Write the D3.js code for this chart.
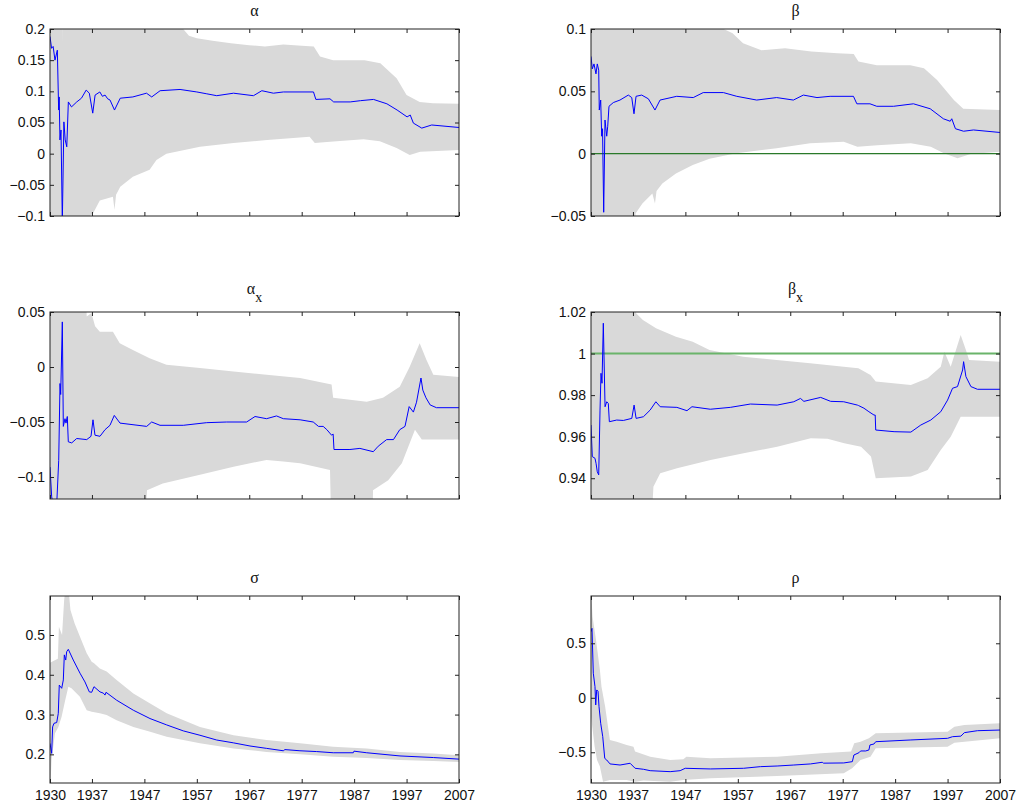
<!DOCTYPE html>
<html>
<head>
<meta charset="utf-8">
<script src="https://cdn.jsdelivr.net/npm/d3@7.9.0/dist/d3.min.js"></script>
<style>
  body { margin: 0; background: #fff; }
  svg { display: block; }
  .tick-label { font-family: "Liberation Sans", Arial, Helvetica, sans-serif; font-size: 14px; fill: #111; }
  .title { font-family: "Liberation Serif", "Times New Roman", serif; font-size: 16px; fill: #111; }
</style>
</head>
<body>
<svg id="chart" width="1018" height="809"></svg>
<script>
// x axis (years)
const xDomain = [1929, 2007];
const xTickYears = [1929, 1937, 1947, 1957, 1967, 1977, 1987, 1997, 2007];
const xTickLabels = ['1930', '1937', '1947', '1957', '1967', '1977', '1987', '1997', '2007'];

// alpha
const alphaMid = [[1929.0,0.188],[1929.3,0.169],[1929.6,0.172],[1929.95,0.150],[1930.4,0.166],[1930.65,0.070],[1930.75,0.091],[1930.9,0.022],[1931.1,0.038],[1931.35,-0.11],[1931.65,0.051],[1931.9,0.022],[1932.2,0.011],[1932.5,0.083],[1933.1,0.075],[1934.1,0.083],[1935.0,0.089],[1935.9,0.102],[1936.5,0.097],[1937.15,0.065],[1937.6,0.094],[1938.5,0.099],[1939.0,0.092],[1939.5,0.094],[1940.0,0.088],[1940.45,0.086],[1941.3,0.070],[1942.4,0.089],[1944.8,0.091],[1947.4,0.097],[1948.4,0.091],[1950.0,0.101],[1953.8,0.103],[1957.0,0.099],[1958.9,0.096],[1960.8,0.093],[1964.0,0.097],[1967.8,0.093],[1969.4,0.101],[1971.6,0.097],[1973.5,0.099],[1979.25,0.099],[1979.7,0.087],[1982.4,0.088],[1983.1,0.083],[1986.25,0.083],[1988.2,0.085],[1990.7,0.087],[1993.25,0.080],[1995.2,0.070],[1997.1,0.059],[1997.7,0.062],[1998.3,0.049],[1999.9,0.041],[2001.8,0.046],[2007.0,0.042]];
const alphaHi = [[1929,0.25],[1931.3,0.25],[1931.33,0.175],[1931.37,0.25],[1954.0,0.25],[1954.4,0.2],[1955.5,0.189],[1957,0.185],[1960,0.181],[1963.5,0.177],[1967,0.174],[1970,0.172],[1973.5,0.175],[1977,0.173],[1979.3,0.172],[1980.5,0.156],[1983,0.150],[1989,0.150],[1992,0.145],[1995.1,0.121],[1997,0.094],[1999.5,0.083],[2002,0.081],[2007,0.080]];
const alphaLo = [[1929,-0.2],[1936.5,-0.2],[1936.6,-0.1],[1937.2,-0.096],[1938.5,-0.075],[1941,-0.069],[1941.3,-0.09],[1941.6,-0.066],[1942.4,-0.053],[1944.8,-0.037],[1948,-0.026],[1949.3,-0.010],[1951.2,0.0],[1957.6,0.011],[1964,0.017],[1970.4,0.022],[1978.5,0.027],[1979.5,0.017],[1982.4,0.019],[1988.8,0.023],[1991.9,0.020],[1995.1,0.009],[1997.6,-0.002],[1999.6,0.003],[2007,0.006]];
const alphaTicks = [-0.1, -0.05, 0, 0.05, 0.1, 0.15, 0.2];

// beta
const betaMid = [[1929.0,0.078],[1929.25,0.068],[1929.57,0.072],[1929.95,0.064],[1930.2,0.072],[1930.47,0.067],[1930.58,0.035],[1930.85,0.043],[1931.04,0.014],[1931.2,0.02],[1931.42,-0.047],[1931.67,0.027],[1932.0,0.014],[1932.19,0.022],[1932.43,0.038],[1933.26,0.041],[1934.53,0.043],[1936.12,0.047],[1936.77,0.045],[1937.2,0.032],[1937.59,0.046],[1938.67,0.047],[1939.94,0.044],[1941.2,0.035],[1942.17,0.043],[1945.35,0.046],[1948.5,0.045],[1950.4,0.049],[1954.25,0.049],[1956.8,0.046],[1960.6,0.043],[1964.4,0.045],[1967.6,0.043],[1969.5,0.047],[1972.1,0.045],[1974.6,0.046],[1979.05,0.046],[1979.7,0.040],[1982.2,0.040],[1983.5,0.038],[1986.7,0.038],[1990.5,0.040],[1993.7,0.036],[1996.2,0.028],[1997.5,0.026],[1997.8,0.028],[1998.5,0.020],[2000.05,0.018],[2001.95,0.019],[2007,0.017]];
const betaHi = [[1929,0.15],[1931.38,0.15],[1931.42,0.095],[1931.46,0.15],[1954,0.15],[1954.3,0.1],[1956,0.0965],[1958,0.0885],[1961.5,0.083],[1966,0.0845],[1971,0.082],[1976,0.0805],[1979.1,0.080],[1980,0.074],[1983.5,0.071],[1989.9,0.071],[1992.5,0.0685],[1995,0.059],[1998.2,0.043],[2000,0.036],[2007,0.035]];
const betaLo = [[1929,-0.1],[1937.3,-0.1],[1937.5,-0.048],[1938.8,-0.040],[1940.7,-0.032],[1941.2,-0.040],[1941.5,-0.030],[1942.6,-0.024],[1945.2,-0.016],[1948.4,-0.009],[1951.6,-0.004],[1956.7,0.0003],[1964.4,0.0043],[1970.8,0.0083],[1977.2,0.0096],[1979.8,0.0056],[1983.6,0.0067],[1990,0.0083],[1993.8,0.0056],[1996.3,0.0003],[1998.9,-0.0037],[2001.4,-0.0003],[2007,0.0016]];
const betaTicks = [-0.05, 0, 0.05, 0.1];

// alpha_x
const alphaXMid = [[1929.0,-0.091],[1929.32,-0.118],[1929.57,-0.125],[1930.28,-0.125],[1930.66,-0.085],[1930.91,-0.015],[1931.04,-0.025],[1931.35,0.041],[1931.54,-0.054],[1931.86,-0.047],[1932.05,-0.051],[1932.3,-0.045],[1932.49,-0.068],[1933.14,-0.069],[1934.09,-0.065],[1936.0,-0.066],[1936.82,-0.063],[1937.2,-0.048],[1937.58,-0.062],[1938.53,-0.063],[1939.49,-0.057],[1940.44,-0.053],[1941.26,-0.044],[1942.35,-0.051],[1947.44,-0.054],[1948.39,-0.050],[1949.98,-0.053],[1954.42,-0.053],[1958.88,-0.0506],[1962.7,-0.050],[1966.5,-0.050],[1968.1,-0.045],[1970.3,-0.047],[1972.2,-0.0445],[1973.5,-0.047],[1976.7,-0.048],[1979.2,-0.050],[1980.2,-0.054],[1981.1,-0.054],[1981.8,-0.057],[1982.7,-0.062],[1983.0,-0.061],[1983.16,-0.075],[1986.2,-0.075],[1988.1,-0.074],[1990.65,-0.077],[1991.6,-0.072],[1993.2,-0.066],[1994.5,-0.066],[1995.7,-0.057],[1996.7,-0.054],[1997.5,-0.036],[1998.3,-0.041],[1998.9,-0.032],[1999.75,-0.010],[2000.1,-0.021],[2000.7,-0.028],[2001.5,-0.0345],[2002.7,-0.037],[2007,-0.037]];
const alphaXHi = [[1929,0.1],[1935.6,0.1],[1936.0,0.046],[1936.9,0.049],[1937.6,0.037],[1938.5,0.032],[1941,0.032],[1942.3,0.0215],[1944.8,0.0155],[1948,0.008],[1951.2,0.002],[1957.6,-0.001],[1964,-0.004],[1970.3,-0.007],[1976.7,-0.010],[1982.7,-0.016],[1983.0,-0.028],[1989.4,-0.0315],[1992.5,-0.028],[1995.7,-0.018],[1997.6,0.0003],[1999.5,0.0215],[2000.8,0.0064],[2002.1,-0.007],[2007,-0.009]];
const alphaXLo = [[1929,-0.2],[1946.5,-0.2],[1947.5,-0.112],[1950.5,-0.106],[1957.6,-0.098],[1964,-0.0906],[1970.3,-0.0845],[1973.5,-0.086],[1976.7,-0.0876],[1982.4,-0.0936],[1982.9,-0.2],[1990.4,-0.2],[1990.6,-0.112],[1993.5,-0.103],[1996.1,-0.0876],[1998.6,-0.057],[1999.9,-0.066],[2007,-0.066]];
const alphaXTicks = [-0.1, -0.05, 0, 0.05];

// beta_x
const betaXMid = [[1929.0,0.9656],[1929.25,0.9504],[1929.76,0.9496],[1929.96,0.9472],[1930.2,0.9431],[1930.47,0.9416],[1930.72,0.9728],[1930.91,0.9905],[1931.1,0.9857],[1931.35,1.0146],[1931.68,0.9744],[1932.0,0.9768],[1932.3,0.976],[1932.5,0.9672],[1933.9,0.968],[1935.17,0.9678],[1936.78,0.9688],[1937.22,0.9752],[1937.6,0.9688],[1939.0,0.9696],[1940.28,0.9728],[1941.37,0.9768],[1942.2,0.9744],[1945.38,0.9741],[1947.3,0.9725],[1948.25,0.9744],[1951.75,0.9732],[1955.57,0.9741],[1959.4,0.9757],[1964.5,0.9752],[1967.67,0.9768],[1968.95,0.9784],[1969.6,0.977],[1972.8,0.9789],[1974.7,0.977],[1977.2,0.9768],[1979.8,0.9752],[1980.0,0.975],[1981.05,0.9737],[1982.0,0.972],[1982.97,0.9704],[1983.2,0.9704],[1983.3,0.9632],[1986.8,0.9624],[1990.0,0.9622],[1991.9,0.9656],[1993.8,0.968],[1995.7,0.972],[1997.0,0.9776],[1997.95,0.9833],[1998.9,0.9841],[1999.87,0.9921],[2000.06,0.9961],[2000.5,0.9889],[2001.45,0.9841],[2002.7,0.9828],[2007,0.9828]];
const betaXHi = [[1929,1.05],[1937.0,1.05],[1937.6,1.0194],[1938.9,1.0161],[1941.4,1.0122],[1945.2,1.0081],[1948.4,1.0057],[1951.6,1.0017],[1958,0.9985],[1964.4,0.9969],[1970.8,0.9953],[1977.2,0.9937],[1980,0.9929],[1982.3,0.9897],[1983.3,0.9865],[1990,0.9849],[1993.2,0.9881],[1995.7,0.9937],[1996.4,1.0009],[1997.6,0.9937],[1999.5,1.0089],[2000.5,1.0017],[2001.1,0.9969],[2007,0.9961]];
const betaXLo = [[1929,0.9],[1940.2,0.9],[1940.9,0.9359],[1942.2,0.9424],[1945.4,0.9448],[1951.8,0.9488],[1958.1,0.952],[1964.5,0.9552],[1970.9,0.9592],[1974.1,0.959],[1977.3,0.9568],[1980.5,0.9552],[1982.4,0.9504],[1983.3,0.94],[1990,0.9408],[1993.2,0.944],[1995.7,0.9536],[1997.6,0.96],[1999.5,0.9696],[2000.8,0.9696],[2007,0.9696]];
const betaXTicks = [0.94, 0.96, 0.98, 1, 1.02];

// sigma
const sigmaMid = [[1929.0,0.2276],[1929.32,0.2025],[1929.5,0.269],[1929.76,0.278],[1930.28,0.28],[1930.58,0.303],[1930.77,0.374],[1931.23,0.366],[1931.54,0.387],[1931.73,0.450],[1932.0,0.437],[1932.18,0.458],[1932.49,0.464],[1933.44,0.437],[1934.72,0.404],[1935.67,0.382],[1936.5,0.357],[1936.95,0.356],[1937.39,0.370],[1938.53,0.357],[1939.16,0.354],[1939.49,0.349],[1939.68,0.356],[1941.72,0.336],[1944.88,0.311],[1948.07,0.290],[1951.25,0.274],[1954.42,0.259],[1957.6,0.248],[1960.79,0.236],[1963.95,0.229],[1967.14,0.221],[1970.32,0.215],[1973.49,0.209],[1973.8,0.212],[1976.67,0.209],[1979.86,0.207],[1983.02,0.204],[1986.84,0.204],[1986.97,0.208],[1989.4,0.204],[1995.75,0.196],[2002.1,0.192],[2007,0.188]];
const sigmaHi = [[1929,0.43],[1930.5,0.44],[1930.7,0.521],[1931.3,0.50],[1931.7,0.588],[1932,0.62],[1932.5,0.62],[1932.9,0.563],[1933.7,0.529],[1934.7,0.496],[1936,0.454],[1936.95,0.433],[1937.4,0.429],[1938.5,0.416],[1939.8,0.408],[1941.7,0.387],[1944.9,0.353],[1948.1,0.328],[1951.25,0.303],[1957.6,0.269],[1964,0.248],[1970.3,0.236],[1976.7,0.228],[1983,0.219],[1989.4,0.215],[1995.75,0.206],[2002.1,0.202],[2007,0.198]];
const sigmaLo = [[1929,0.1],[1929.3,0.186],[1929.95,0.253],[1930.6,0.269],[1931.2,0.294],[1931.9,0.336],[1932.5,0.370],[1933.1,0.366],[1934.7,0.345],[1936,0.311],[1936.95,0.307],[1938.5,0.303],[1939.8,0.299],[1941.7,0.286],[1944.9,0.269],[1948.1,0.257],[1951.25,0.244],[1957.6,0.228],[1964,0.215],[1970.3,0.206],[1976.7,0.200],[1983,0.194],[1989.4,0.191],[1995.75,0.186],[2002.1,0.183],[2007,0.181]];
const sigmaTicks = [0.2, 0.3, 0.4, 0.5];

// rho
const rhoMid = [[1929.0,0.606],[1929.19,0.637],[1929.44,0.225],[1929.76,0.102],[1929.9,-0.066],[1930.09,0.072],[1930.34,0.06],[1930.53,-0.082],[1930.85,-0.234],[1931.24,-0.357],[1931.62,-0.556],[1932.0,-0.571],[1932.63,-0.607],[1934.54,-0.617],[1936.46,-0.601],[1937.41,-0.647],[1939.0,-0.656],[1940.28,-0.669],[1944.1,-0.678],[1946.0,-0.669],[1946.97,-0.647],[1951.75,-0.653],[1958.1,-0.647],[1961.3,-0.632],[1964.5,-0.626],[1967.67,-0.617],[1970.87,-0.607],[1973.1,-0.592],[1973.35,-0.600],[1977.2,-0.598],[1978.84,-0.586],[1979.14,-0.525],[1980.1,-0.504],[1980.42,-0.488],[1981.38,-0.488],[1982.0,-0.479],[1982.2,-0.433],[1982.97,-0.424],[1983.3,-0.403],[1990.0,-0.387],[1997.0,-0.372],[1997.95,-0.357],[1999.54,-0.352],[2000.2,-0.320],[2002.7,-0.302],[2007,-0.296]];
const rhoHi = [[1929,1.0],[1929.3,0.744],[1929.95,0.530],[1930.7,0.255],[1931.0,0.102],[1931.7,-0.082],[1932.6,-0.387],[1933.9,-0.403],[1935.8,-0.433],[1937.1,-0.449],[1937.4,-0.494],[1940.3,-0.540],[1944.1,-0.571],[1946.6,-0.565],[1947.2,-0.540],[1951.8,-0.555],[1964.5,-0.540],[1972.9,-0.509],[1978.6,-0.494],[1979.2,-0.417],[1980.4,-0.403],[1982,-0.372],[1983.3,-0.326],[1997,-0.311],[1998.3,-0.265],[2000.2,-0.250],[2007,-0.234]];
const rhoLo = [[1929,-0.17],[1929.7,-0.449],[1930.15,-0.571],[1930.7,-0.63],[1931.3,-0.77],[1932.6,-0.754],[1935.8,-0.754],[1937.4,-0.77],[1939,-0.76],[1944.1,-0.77],[1946.6,-0.754],[1951.8,-0.739],[1964.5,-0.718],[1977.2,-0.693],[1978.8,-0.647],[1980.4,-0.571],[1982.3,-0.540],[1983.3,-0.464],[1997,-0.449],[1998.3,-0.412],[2007,-0.372]];
const rhoTicks = [-0.5, 0, 0.5];

const panels = [
  { title: 'α', sub: '', col: 0, row: 0, yDomain: [-0.1, 0.2], ticks: alphaTicks, mid: alphaMid, hi: alphaHi, lo: alphaLo },
  { title: 'β', sub: '', col: 1, row: 0, yDomain: [-0.05, 0.1], ticks: betaTicks, mid: betaMid, hi: betaHi, lo: betaLo, ref: 0, refColor: '#2a7a2a', refWidth: 1.2 },
  { title: 'α', sub: 'x', col: 0, row: 1, yDomain: [-0.12, 0.05], ticks: alphaXTicks, mid: alphaXMid, hi: alphaXHi, lo: alphaXLo },
  { title: 'β', sub: 'x', col: 1, row: 1, yDomain: [0.93, 1.02], ticks: betaXTicks, mid: betaXMid, hi: betaXHi, lo: betaXLo, ref: 1, refColor: '#6ab46a', refWidth: 2 },
  { title: 'σ', sub: '', col: 0, row: 2, yDomain: [0.128, 0.598], ticks: sigmaTicks, mid: sigmaMid, hi: sigmaHi, lo: sigmaLo },
  { title: 'ρ', sub: '', col: 1, row: 2, yDomain: [-0.782, 0.934], ticks: rhoTicks, mid: rhoMid, hi: rhoHi, lo: rhoLo },
];

const colLeft = [50, 591];
const rowTop = [29, 312, 596];
const panelW = 409;
const panelH = 187;
const tickLen = 4;

const svg = d3.select('#chart');
svg.append('rect').attr('width', 1018).attr('height', 809).attr('fill', '#fff');

const fmt = (v) => {
  let s = String(+v.toFixed(3));
  if (s.startsWith('-')) s = '\u2212' + s.slice(1);
  return s;
};

panels.forEach((p, i) => {
  const left = colLeft[p.col];
  const top = rowTop[p.row];
  const x = d3.scaleLinear().domain(xDomain).range([left, left + panelW]);
  const y = d3.scaleLinear().domain(p.yDomain).range([top + panelH, top]);

  const g = svg.append('g');
  const clipId = 'clip' + i;
  svg.append('clipPath').attr('id', clipId)
    .append('rect').attr('x', left).attr('y', top).attr('width', panelW).attr('height', panelH);

  const plot = g.append('g').attr('clip-path', `url(#${clipId})`);
  const line = d3.line().x(d => x(d[0])).y(d => y(d[1]));

  // confidence band: upper edge forward, lower edge back
  const band = p.hi.concat(p.lo.slice().reverse());
  plot.append('path')
    .attr('d', line(band) + 'Z')
    .attr('fill', '#d9d9d9')
    .attr('stroke', 'none');

  if (p.ref !== undefined) {
    plot.append('path')
      .attr('d', line([[xDomain[0], p.ref], [xDomain[1], p.ref]]))
      .attr('stroke', p.refColor)
      .attr('stroke-width', p.refWidth)
      .attr('fill', 'none');
  }

  plot.append('path')
    .attr('d', line(p.mid))
    .attr('fill', 'none')
    .attr('stroke', '#0000ff')
    .attr('stroke-width', 1);

  // axes with inward ticks on all four sides
  const axisColor = '#222';
  const bottom = g.append('g').attr('transform', `translate(0,${top + panelH})`)
    .call(d3.axisBottom(x).tickValues(xTickYears).tickSizeInner(-tickLen).tickSizeOuter(0)
      .tickFormat((d, k) => p.row === 2 ? xTickLabels[k] : ''));
  const topAx = g.append('g').attr('transform', `translate(0,${top})`)
    .call(d3.axisTop(x).tickValues(xTickYears).tickSizeInner(-tickLen).tickSizeOuter(0).tickFormat(''));
  const leftAx = g.append('g').attr('transform', `translate(${left},0)`)
    .call(d3.axisLeft(y).tickValues(p.ticks).tickSizeInner(-tickLen).tickSizeOuter(0).tickPadding(5).tickFormat(fmt));
  const rightAx = g.append('g').attr('transform', `translate(${left + panelW},0)`)
    .call(d3.axisRight(y).tickValues(p.ticks).tickSizeInner(-tickLen).tickSizeOuter(0).tickFormat(''));

  [bottom, topAx, leftAx, rightAx].forEach(a => {
    a.select('.domain').remove();
    a.selectAll('line').attr('stroke', axisColor);
    a.selectAll('text').attr('class', 'tick-label').attr('font-size', null).attr('font-family', null);
  });
  bottom.selectAll('text').attr('dy', '1.0em');

  g.append('rect')
    .attr('x', left).attr('y', top).attr('width', panelW).attr('height', panelH)
    .attr('fill', 'none').attr('stroke', axisColor).attr('stroke-width', 1);

  // title
  const t = g.append('text').attr('class', 'title')
    .attr('x', left + panelW / 2)
    .attr('y', p.sub ? top - 18 : top - 13)
    .attr('text-anchor', 'middle');
  t.append('tspan').text(p.title);
  if (p.sub) {
    t.append('tspan').attr('dy', 8).attr('font-size', 14).text(p.sub);
  }
});
</script>
</body>
</html>
